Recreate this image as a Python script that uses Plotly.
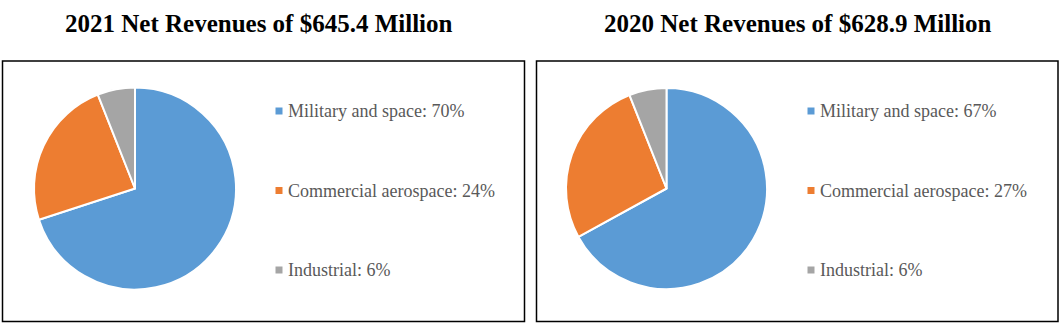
import plotly.graph_objects as go

W, H = 1062, 325

segments = ["Military and space", "Commercial aerospace", "Industrial"]
share_2021 = [70, 24, 6]
share_2020 = [67, 27, 6]
titles = ["2021 Net Revenues of $645.4 Million", "2020 Net Revenues of $628.9 Million"]
colors = ["#5B9BD5", "#ED7D31", "#A5A5A5"]


def px(x):
    return x / W


def py(y):
    return 1 - y / H


fig = go.Figure()

# panel geometry in pixels: box, pie center/radius, legend anchor
panels = [
    dict(values=share_2021, title=titles[0], box=(2.5, 61, 524.5, 321.5),
         cx=135, cy=188.5, r=101, lx=279, tx=286, title_x=259),
    dict(values=share_2020, title=titles[1], box=(536.5, 61, 1058, 321.5),
         cx=666.5, cy=188.5, r=100.5, lx=811, tx=818, title_x=798),
]
legend_rows = [111, 190.5, 270]

for p in panels:
    cx, cy, r = p["cx"], p["cy"], p["r"]
    fig.add_trace(go.Pie(
        labels=segments,
        values=p["values"],
        sort=False,
        direction="clockwise",
        rotation=0,
        marker=dict(colors=colors, line=dict(color="white", width=2)),
        textinfo="none",
        hoverinfo="label+percent",
        showlegend=False,
        domain=dict(x=[px(cx - r), px(cx + r)], y=[py(cy + r), py(cy - r)]),
    ))

    x0, y0, x1, y1 = p["box"]
    fig.add_shape(type="rect", xref="paper", yref="paper",
                  x0=px(x0), x1=px(x1), y0=py(y1), y1=py(y0),
                  line=dict(color="black", width=1.5), fillcolor="rgba(0,0,0,0)")

    fig.add_annotation(text="<b>" + p["title"] + "</b>", xref="paper", yref="paper",
                       x=px(p["title_x"]), y=py(23), xanchor="center", yanchor="middle",
                       showarrow=False,
                       font=dict(family="Liberation Serif", size=25, color="black"))

    for name, val, col, ry in zip(segments, p["values"], colors, legend_rows):
        s = 3.5
        fig.add_shape(type="rect", xref="paper", yref="paper",
                      x0=px(p["lx"] - s), x1=px(p["lx"] + s),
                      y0=py(ry + s), y1=py(ry - s),
                      line=dict(width=0), fillcolor=col)
        fig.add_annotation(text=f"{name}: {val}%", xref="paper", yref="paper",
                           x=px(p["tx"]), y=py(ry), xanchor="left", yanchor="middle",
                           showarrow=False,
                           font=dict(family="Liberation Serif", size=18, color="#595959"))

fig.update_layout(
    width=W, height=H,
    margin=dict(l=0, r=0, t=0, b=0),
    paper_bgcolor="white",
    plot_bgcolor="white",
)

fig.write_html("out.html")
